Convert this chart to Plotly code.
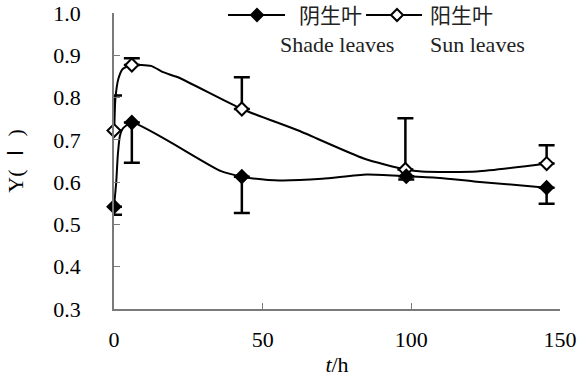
import plotly.graph_objects as go

# ---- data ----
sun_line_t = [0, 0.5, 1.5, 3, 6, 12.5, 16.5, 21.5, 43, 62, 84, 98, 103.5, 122, 145.5]
sun_line_y = [0.722, 0.800, 0.845, 0.868, 0.877, 0.875, 0.860, 0.848, 0.773, 0.722, 0.656, 0.630, 0.625, 0.625, 0.644]

shade_line_t = [0, 0.75, 1.3, 2, 3, 6, 36, 43, 45.6, 55.7, 70, 85, 98.3, 109.6, 122, 145.5]
shade_line_y = [0.542, 0.600, 0.666, 0.710, 0.727, 0.741, 0.626, 0.613, 0.610, 0.604, 0.608, 0.618, 0.614, 0.610, 0.601, 0.587]

sun_t = [0, 6, 43, 98, 145.5]
sun_y = [0.722, 0.877, 0.773, 0.630, 0.644]
sun_err_plus = [0.083, 0.016, 0.075, 0.121, 0.043]

shade_t = [0, 6, 43, 98.3, 145.5]
shade_y = [0.542, 0.741, 0.613, 0.614, 0.587]
shade_err_minus = [0.019, 0.095, 0.086, 0.008, 0.038]

x_ticks = [0, 50, 100, 150]
y_ticks = [0.3, 0.4, 0.5, 0.6, 0.7, 0.8, 0.9, 1.0]

shade_cn, shade_en = "阴生叶", "Shade leaves"
sun_cn, sun_en = "阳生叶", "Sun leaves"

SERIF = "Times New Roman, Liberation Serif, Noto Sans CJK SC, serif"
CJK = "Noto Sans CJK SC, sans-serif"
W, H = 586, 377
ML, MR, MT, MB = 114, 26, 13, 68
AX = "#7a7a7a"

fig = go.Figure()

fig.add_trace(go.Scatter(x=shade_line_t, y=shade_line_y, mode="lines",
                         line=dict(color="black", width=2, shape="spline", smoothing=0.6),
                         showlegend=False, hoverinfo="skip", cliponaxis=False))
fig.add_trace(go.Scatter(x=sun_line_t, y=sun_line_y, mode="lines",
                         line=dict(color="black", width=2, shape="spline", smoothing=0.6),
                         showlegend=False, hoverinfo="skip", cliponaxis=False))

fig.add_trace(go.Scatter(x=sun_t, y=sun_y, mode="markers", name=sun_en,
                         marker=dict(symbol="diamond", size=10, color="white",
                                     line=dict(color="black", width=2)),
                         error_y=dict(type="data", symmetric=False, array=sun_err_plus,
                                      arrayminus=[0] * len(sun_t), color="black", thickness=2.5, width=8),
                         showlegend=False, cliponaxis=False))
fig.add_trace(go.Scatter(x=shade_t, y=shade_y, mode="markers", name=shade_en,
                         marker=dict(symbol="diamond", size=10, color="black",
                                     line=dict(color="black", width=2)),
                         error_y=dict(type="data", symmetric=False, array=[0] * len(shade_t),
                                      arrayminus=shade_err_minus, color="black", thickness=2.5, width=8),
                         showlegend=False, cliponaxis=False))

# ---- manual legend (pixel positions converted to paper coords) ----
PW, PH = W - ML - MR, H - MT - MB
def px(x):
    return (x - ML) / PW
def py(y):
    return (H - MB - y) / PH

shapes = []
for x0, x1, xc, fill in [(228, 285, 257, "black"), (366, 422, 397, "white")]:
    shapes.append(dict(type="line", xref="paper", yref="paper", x0=px(x0), x1=px(x1),
                       y0=py(15), y1=py(15), line=dict(color="black", width=2)))
    shapes.append(dict(type="path", xref="paper", yref="paper", xsizemode="pixel", ysizemode="pixel",
                       xanchor=px(xc), yanchor=py(15), path="M0,6 L6,0 L0,-6 L-6,0 Z",
                       fillcolor=fill, line=dict(color="black", width=2)))

annotations = []
for text, x, y, fam, sz in [(shade_cn, 298, 14, CJK, 21), (shade_en, 279, 44, SERIF, 22),
                            (sun_cn, 429, 14, CJK, 21), (sun_en, 429, 44, SERIF, 22)]:
    annotations.append(dict(text=text, xref="paper", yref="paper", x=px(x), y=py(y),
                            xanchor="left", yanchor="middle", showarrow=False, borderpad=0,
                            font=dict(family=fam, size=sz, color="#222")))

fig.update_layout(
    width=W, height=H,
    margin=dict(l=ML, r=MR, t=MT, b=MB, pad=0, autoexpand=False),
    plot_bgcolor="white", paper_bgcolor="white",
    font=dict(family=SERIF, size=22, color="black"),
    shapes=shapes, annotations=annotations,
    showlegend=False,
)
fig.update_xaxes(range=[0, 150], tickvals=x_ticks, ticktext=[str(v) for v in x_ticks],
                 tickfont=dict(family=SERIF, size=22, color="black"), automargin=False,
                 showgrid=False, zeroline=False, showline=True, linecolor=AX, linewidth=1.5,
                 ticks="inside", ticklen=6, tickcolor=AX, tickwidth=1,
                 ticklabelstandoff=10,
                 title=dict(text="<i>t</i>/h", font=dict(family=SERIF, size=22, color="black"), standoff=8))
fig.update_yaxes(range=[0.3, 1.0], tickvals=y_ticks, ticktext=[f"{v:.1f}" for v in y_ticks],
                 tickfont=dict(family=SERIF, size=22, color="black"), automargin=False,
                 showgrid=False, zeroline=False, showline=True, linecolor=AX, linewidth=1.5,
                 ticks="inside", ticklen=6, tickcolor=AX, tickwidth=1,
                 ticklabelstandoff=27,
                 title=dict(text="Y( Ⅰ )", font=dict(family=SERIF, size=22, color="black"), standoff=24))

fig.write_html("out.html")
